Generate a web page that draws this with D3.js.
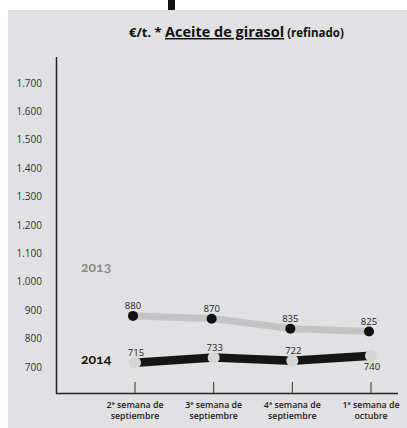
<!DOCTYPE html>
<html><head><meta charset="utf-8">
<script src="https://cdn.jsdelivr.net/npm/d3@7"></script>
<style>
html,body{margin:0;padding:0;background:#fff;}
svg{display:block;font-family:"Open Sans","Noto Sans",sans-serif;}
.year{font-family:Lato,"Noto Sans",sans-serif;font-feature-settings:"onum" 1;font-variant-numeric:oldstyle-nums;}
</style>
</head><body>
<script>
const weeks = [["2ª semana de","septiembre"],["3ª semana de","septiembre"],["4ª semana de","septiembre"],["1ª semana de","octubre"]];
const values2013 = [880, 870, 835, 825];
const values2014 = [715, 733, 722, 740];
const yTicks = [700, 800, 900, 1000, 1100, 1200, 1300, 1400, 1500, 1600, 1700];

const W = 407, H = 428;
const svg = d3.select("body").append("svg").attr("width", W).attr("height", H);

// cropped headline descender above the panel
svg.append("rect").attr("x",168).attr("y",0).attr("width",7).attr("height",10).attr("fill","#111");
svg.append("rect").attr("x",8).attr("y",10).attr("width",W-8).attr("height",H-10).attr("fill","#e1e1e3");

const x = d3.scalePoint().domain(d3.range(weeks.length)).range([135, 371]);
const y = d3.scaleLinear().domain([700, 1700]).range([367, 83]);

// title
const t = svg.append("text").attr("x",129).attr("y",37).attr("fill","#111").attr("font-weight","bold");
t.append("tspan").attr("font-size",13).text("€/t. * ");
t.append("tspan").attr("font-size",14.5).attr("text-decoration","underline").text("Aceite de girasol");
t.append("tspan").attr("font-size",11.5).attr("font-weight","bold").text(" (refinado)");

// axes
svg.append("line").attr("x1",56.5).attr("x2",56.5).attr("y1",57).attr("y2",393.5).attr("stroke","#222").attr("stroke-width",1.5);
svg.append("line").attr("x1",56).attr("x2",398).attr("y1",393.5).attr("y2",393.5).attr("stroke","#222").attr("stroke-width",1.5);

// y labels
svg.append("g").selectAll("text").data(yTicks).join("text")
  .attr("x",42).attr("y",d=>y(d)).attr("dy","0.35em").attr("text-anchor","end")
  .attr("font-size",10).attr("fill","#333")
  .text(d=>d3.format(",")(d).replace(/,/g,"."));

// x ticks
svg.append("g").selectAll("line").data(weeks.map((d,i)=>i)).join("line")
  .attr("x1",d=>x(d)).attr("x2",d=>x(d)).attr("y1",382).attr("y2",393)
  .attr("stroke","#333").attr("stroke-width",1);
[0,1].forEach(k=>{
  svg.append("g").selectAll("text").data(weeks).join("text")
    .attr("x",(d,i)=>x(i)).attr("y",408 + k*11).attr("text-anchor","middle")
    .attr("font-size",8.8).attr("font-weight",600).attr("fill","#222")
    .text(d=>d[k]);
});

const line = d3.line().x((d,i)=>x(i)).y(d=>y(d));

// 2013
svg.append("path").datum(values2013).attr("d",line).attr("fill","none")
  .attr("stroke","#c4c4c4").attr("stroke-width",7);
svg.append("g").selectAll("circle").data(values2013).join("circle")
  .attr("cx",(d,i)=>x(i)-2).attr("cy",d=>y(d)).attr("r",5).attr("fill","#111");
svg.append("g").selectAll("text").data(values2013).join("text")
  .attr("x",(d,i)=>x(i)-2).attr("y",d=>y(d)-7).attr("text-anchor","middle")
  .attr("font-size",9.5).attr("fill","#222").text(d=>d);

// 2014
svg.append("path").datum(values2014).attr("d",line).attr("fill","none")
  .attr("stroke","#151515").attr("stroke-width",8.5);
svg.append("g").selectAll("circle").data(values2014).join("circle")
  .attr("cx",(d,i)=>x(i)).attr("cy",d=>y(d)).attr("r",6).attr("fill","#d6d6d8");
svg.append("g").selectAll("text").data(values2014).join("text")
  .attr("x",(d,i)=>x(i)+1).attr("y",(d,i)=> i===values2014.length-1 ? y(d)+14 : y(d)-7)
  .attr("text-anchor","middle").attr("font-size",9.5).attr("fill","#222").text(d=>d);

// year labels
svg.append("text").attr("class","year").attr("x",81).attr("y",272).attr("font-size",14)
  .attr("font-weight","bold").attr("fill","#8a8a8a").text("2013");
svg.append("text").attr("class","year").attr("x",81).attr("y",364).attr("font-size",14)
  .attr("font-weight","bold").attr("fill","#151515").text("2014");
</script>
</body></html>
